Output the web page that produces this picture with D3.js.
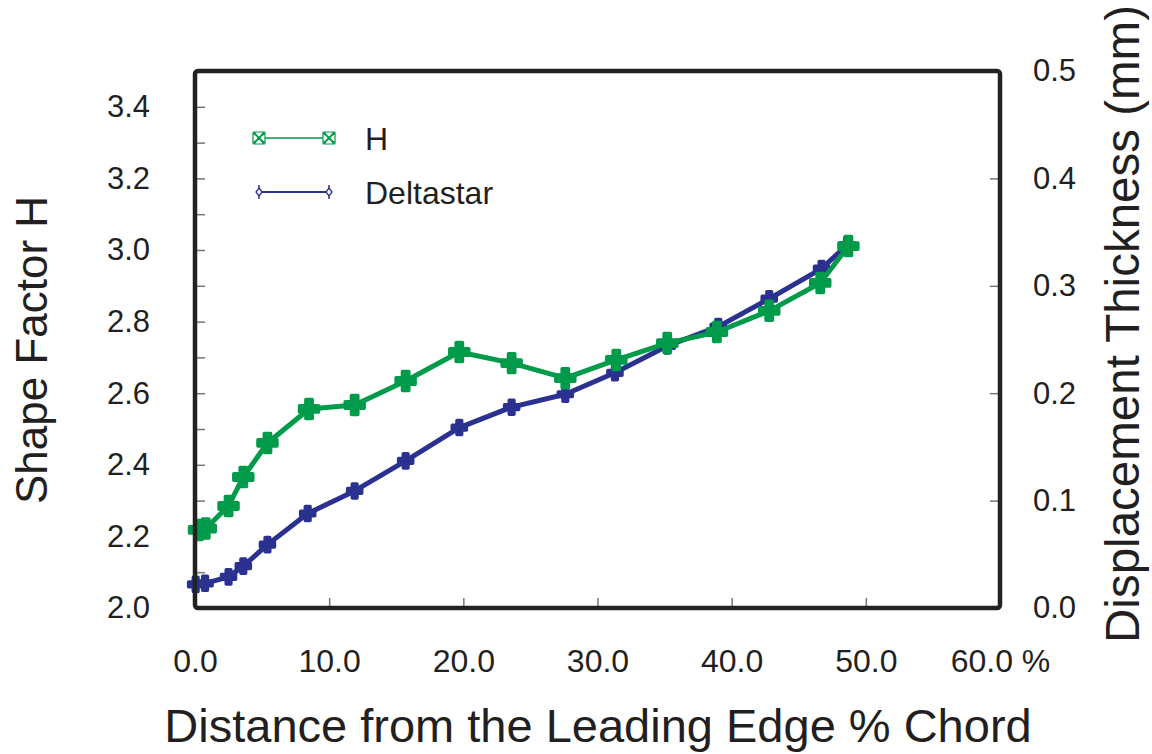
<!DOCTYPE html>
<html>
<head>
<meta charset="utf-8">
<script src="https://cdn.jsdelivr.net/npm/d3@7"></script>
<style>
  body { margin: 0; background: #fff; }
  text { font-family: "Liberation Sans", Arial, sans-serif; fill: #231f20; }
</style>
</head>
<body>
<script>
// Data

const hX = [0.3, 0.8, 2.5, 3.6, 5.4, 8.5, 11.9, 15.7, 19.7, 23.6, 27.6, 31.4, 35.2, 38.9, 42.8, 46.6, 48.7];
const hValues = [2.218, 2.222, 2.285, 2.366, 2.461, 2.556, 2.567, 2.634, 2.715, 2.684, 2.642, 2.693, 2.740, 2.771, 2.830, 2.908, 3.011];

const deltaX = [0.05, 0.75, 2.5, 3.6, 5.4, 8.4, 11.9, 15.7, 19.7, 23.6, 27.6, 31.3, 35.2, 39.0, 42.8, 46.7, 48.6];
const deltaValues = [0.022, 0.023, 0.029, 0.039, 0.059, 0.088, 0.109, 0.137, 0.168, 0.187, 0.199, 0.219, 0.244, 0.262, 0.288, 0.316, 0.338];

const xTicks = [0, 10, 20, 30, 40, 50, 60];
const xTickLabels = ["0.0", "10.0", "20.0", "30.0", "40.0", "50.0", "60.0 %"];
const leftTicks = [2.0, 2.1, 2.2, 2.3, 2.4, 2.5, 2.6, 2.7, 2.8, 2.9, 3.0, 3.1, 3.2, 3.3, 3.4];
const leftLabels = [2.0, 2.2, 2.4, 2.6, 2.8, 3.0, 3.2, 3.4];
const rightTicks = [0.0, 0.1, 0.2, 0.3, 0.4, 0.5];

const seriesNames = ["H", "Deltastar"];

// Dimensions

const width = 1152, height = 754;
const pLeft = 195, pRight = 1000, pTop = 71, pBottom = 608;
const green = "#009b4a", navy = "#2b3190";

const svg = d3.select("body")
 .append("svg")
 .attr("width", width)
 .attr("height", height);

const x = d3.scaleLinear().domain([0, 60]).range([pLeft, pRight]);
const yL = d3.scaleLinear().domain([2.0, 3.5]).range([pBottom, pTop]);
const yR = d3.scaleLinear().domain([0, 0.5]).range([pBottom, pTop]);

// inside ticks (grey)

svg.append("g")
 .attr("transform", `translate(${pLeft},0)`)
 .call(d3.axisRight(yL).tickValues(leftTicks).tickSize(10).tickFormat(""))
 .call(g => g.select(".domain").remove())
 .call(g => g.selectAll("line").attr("stroke", "#777").attr("stroke-width", 1.5));

svg.append("g")
 .attr("transform", `translate(${pRight},0)`)
 .call(d3.axisLeft(yR).tickValues(rightTicks).tickSize(10).tickFormat(""))
 .call(g => g.select(".domain").remove())
 .call(g => g.selectAll("line").attr("stroke", "#777").attr("stroke-width", 1.5));

svg.append("g")
 .attr("transform", `translate(0,${pBottom})`)
 .call(d3.axisTop(x).tickValues(xTicks.slice(1, -1)).tickSize(10).tickFormat(""))
 .call(g => g.select(".domain").remove())
 .call(g => g.selectAll("line").attr("stroke", "#777").attr("stroke-width", 1.5));

// tick labels

svg.append("g")
 .attr("transform", `translate(${pLeft},0)`)
 .call(d3.axisLeft(yL).tickValues(leftLabels).tickSize(0).tickPadding(45).tickFormat(d3.format(".1f")))
 .call(g => g.select(".domain").remove())
 .call(g => g.selectAll("text").style("font-size", "31px").attr("fill", "#231f20"));

svg.append("g")
 .attr("transform", `translate(${pRight},0)`)
 .call(d3.axisRight(yR).tickValues(rightTicks).tickSize(0).tickPadding(33).tickFormat(d3.format(".1f")))
 .call(g => g.select(".domain").remove())
 .call(g => g.selectAll("text").style("font-size", "31px").attr("fill", "#231f20"));

svg.append("g")
 .attr("transform", `translate(0,${pBottom})`)
 .call(d3.axisBottom(x).tickValues(xTicks).tickSize(0).tickPadding(41).tickFormat((d, i) => xTickLabels[i]))
 .call(g => g.select(".domain").remove())
 .call(g => g.selectAll("text").style("font-size", "32px").attr("fill", "#231f20"));

// axis titles

svg.append("text")
 .attr("transform", "translate(47,350) rotate(-90)")
 .attr("text-anchor", "middle")
 .style("font-size", "44px")
 .text("Shape Factor H");

svg.append("text")
 .attr("transform", "translate(1139,324) rotate(-90)")
 .attr("text-anchor", "middle")
 .style("font-size", "47.5px")
 .text("Displacement Thickness (mm)");

svg.append("text")
 .attr("x", 598)
 .attr("y", 742)
 .attr("text-anchor", "middle")
 .style("font-size", "47px")
 .text("Distance from the Leading Edge % Chord");

// series

const hData = hX.map((d, i) => ({x: d, y: hValues[i]}));
const deltaData = deltaX.map((d, i) => ({x: d, y: deltaValues[i]}));

function plotSeries(data, yScale, color, markerSize) {
  svg.append("path")
   .datum(data)
   .attr("fill", "none")
   .attr("stroke", color)
   .attr("stroke-width", 5)
   .attr("stroke-linejoin", "round")
   .attr("d", d3.line().x(d => x(d.x)).y(d => yScale(d.y)));

  svg.append("g")
   .selectAll("path")
   .data(data)
   .join("path")
   .attr("transform", d => `translate(${x(d.x)},${yScale(d.y)})`)
   .attr("d", d3.symbol(d3.symbolCross, markerSize))
   .attr("fill", color)
   .attr("stroke", color)
   .attr("stroke-width", 3.5)
   .attr("stroke-linejoin", "round");
}

plotSeries(deltaData, yR, navy, 110);
plotSeries(hData, yL, green, 200);

// frame

svg.append("rect")
 .attr("x", pLeft)
 .attr("y", pTop)
 .attr("width", pRight - pLeft)
 .attr("height", pBottom - pTop)
 .attr("rx", 3)
 .attr("fill", "none")
 .attr("stroke", "#222")
 .attr("stroke-width", 4.5);

// legend

const legendY = [138, 192];
const legendColors = [green, navy];

seriesNames.forEach((name, i) => {
  const g = svg.append("g").attr("transform", `translate(0,${legendY[i]})`);
  g.append("line")
   .attr("x1", 259).attr("x2", 329)
   .attr("stroke", legendColors[i])
   .attr("stroke-width", i === 0 ? 1.5 : 2);
  [259, 329].forEach(mx => {
    const m = g.append("g").attr("transform", `translate(${mx},0)`);
    if (i === 0) {
      m.append("path")
       .attr("d", "M-5,-6L5,-6L0,0Z M-5,6L5,6L0,0Z M-6,-5L-6,5L0,0Z M6,-5L6,5L0,0Z")
       .attr("fill", "#fff").attr("stroke", green).attr("stroke-width", 1.2);
      m.append("circle").attr("r", 1.8).attr("fill", green);
    } else {
      m.append("line").attr("y1", -7).attr("y2", 7).attr("stroke", navy).attr("stroke-width", 1.5);
      m.append("path").attr("d", "M0,-4L3,0L0,4L-3,0Z")
       .attr("fill", "#fff").attr("stroke", navy).attr("stroke-width", 1.3);
    }
  });
  g.append("text")
   .attr("x", 365)
   .attr("dy", "0.36em")
   .style("font-size", "32px")
   .text(name);
});
</script>
</body>
</html>
